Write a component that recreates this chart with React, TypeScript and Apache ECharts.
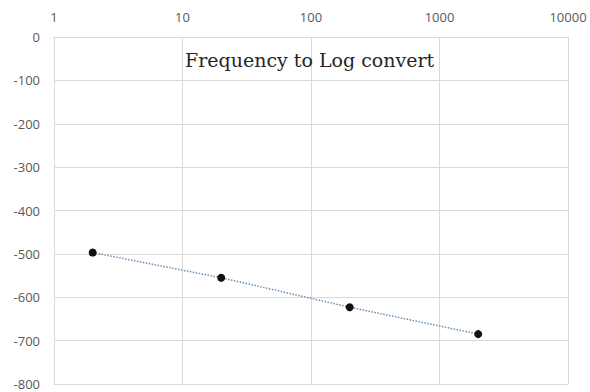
import React, { useEffect, useRef } from "react";
import * as echarts from "echarts";

const titleText = "Frequency to Log convert";
const frequencies = [2, 20, 200, 2000];
const values = [-497, -555, -623, -685];
const yMin = -800;
const yMax = 0;
const yInterval = 100;
const xMin = 1;
const xMax = 10000;

export default function App() {
  const ref = useRef<HTMLDivElement>(null);
  useEffect(() => {
    document.body.style.margin = "0";
    const chart = echarts.init(ref.current!, null, { renderer: "svg" });
    const data = frequencies.map((f, i) => [f, values[i]]);
    const labelStyle = {
      margin: 14,
      color: "#595959",
      fontSize: 13,
      lineHeight: 13,
      fontFamily: "Open Sans",
    };
    chart.setOption({
      animation: false,
      backgroundColor: "#ffffff",
      title: {
        text: titleText,
        left: 185,
        top: 50,
        padding: 0,
        textStyle: {
          fontFamily: "DejaVu Serif",
          fontWeight: "normal",
          fontSize: 19,
          color: "#262626",
        },
      },
      grid: { left: 54, right: 22, top: 37, bottom: 8 },
      xAxis: {
        type: "log",
        logBase: 10,
        min: xMin,
        max: xMax,
        position: "top",
        axisLine: { show: true, lineStyle: { color: "#d9d9d9" } },
        axisTick: { show: false },
        splitLine: { show: true, lineStyle: { color: "#d9d9d9" } },
        axisLabel: { ...labelStyle, formatter: (v: number) => String(Math.round(v)) },
      },
      yAxis: {
        type: "value",
        min: yMin,
        max: yMax,
        interval: yInterval,
        axisLine: { show: true, lineStyle: { color: "#d9d9d9" } },
        axisTick: { show: false },
        splitLine: { show: true, lineStyle: { color: "#d9d9d9" } },
        axisLabel: labelStyle,
      },
      series: [
        {
          type: "line",
          data,
          symbol: "circle",
          symbolSize: 8,
          itemStyle: { color: "#111111" },
          lineStyle: { type: "dotted", color: "#6a8fb3", width: 1.5 },
        },
      ],
    });
    return () => chart.dispose();
  }, []);
  return <div ref={ref} style={{ width: 590, height: 392 }} />;
}
